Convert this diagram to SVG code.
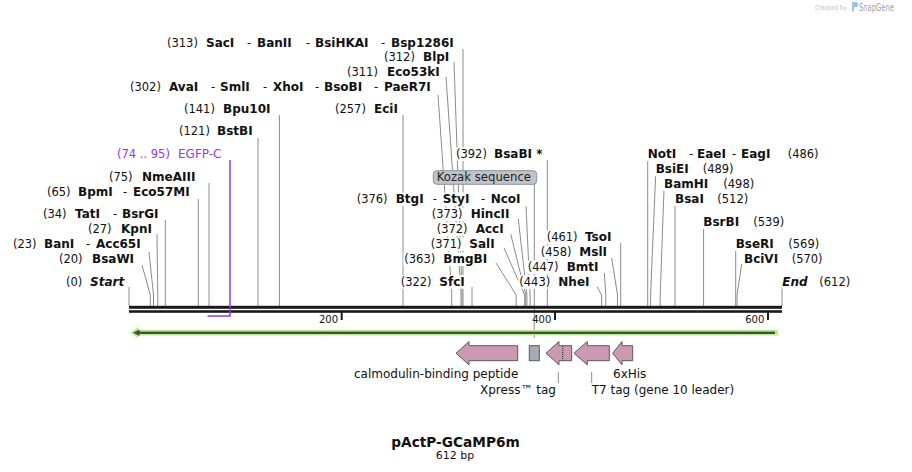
<svg xmlns="http://www.w3.org/2000/svg" width="912" height="472" viewBox="0 0 912 472">
<style>
text{font-family:"DejaVu Sans",Verdana,sans-serif;fill:#111}
.n{font-size:11.5px}
.b{font-size:12px;font-weight:bold}
.bi{font-size:12px;font-weight:bold;font-style:italic}
.bg{fill:#fff}
.cut{stroke:#8c8c8c;stroke-width:1;fill:none}
.feat{fill:#cc99b2;stroke:#5a5a5a;stroke-width:1}
.fl{font-size:12px}
.tick{font-size:10px}
.pur{fill:#9933ff}
</style>
<rect width="912" height="472" fill="#fff"/>

<!-- watermark -->
<g id="watermark">
<text x="815" y="10" style="font-size:7px;fill:#c4c4c4" textLength="32" lengthAdjust="spacingAndGlyphs">Created by</text>
<path d="M852 2 h3.5 a2.6 2.6 0 0 1 0 5.2 h-1.5 v4.3 h-2 z" fill="#9fc0dc"/>
<text x="859" y="11" style="font-size:10px;fill:#9aa3ad" textLength="35" lengthAdjust="spacingAndGlyphs">SnapGene</text>
</g>

<!-- connectors -->
<g id="connectors">
<path class="cut" d="M463 49V306"/>
<path class="cut" d="M454 62L462 292V306"/>
<path class="cut" d="M446 77L461 292V306"/>
<path class="cut" d="M438 95L451.7 292V306"/>
<path class="cut" d="M279.4 115V306"/>
<path class="cut" d="M403 115V306"/>
<path class="cut" d="M258 138V306"/>
<path class="cut" d="M209 183V306"/>
<path class="cut" d="M198.3 199V306"/>
<path class="cut" d="M165.3 220V306"/>
<path class="cut" d="M157 234L157.8 295V306"/>
<path class="cut" d="M149 252L153.5 295V306"/>
<path class="cut" d="M142 265L150.3 295V306"/>
<path class="cut" d="M129 287V306"/>
<path class="cut" d="M547.3 160V306"/>
<path class="cut" d="M534.3 184V338"/>
<path class="cut" d="M526 206L530.1 295V306"/>
<path class="cut" d="M518.3 219L526.9 295V306"/>
<path class="cut" d="M510.7 234L525.8 295V306"/>
<path class="cut" d="M504 248L524.7 295V306"/>
<path class="cut" d="M496 263L516.2 295V306"/>
<path class="cut" d="M472 287V306"/>
<path class="cut" d="M597 286.5L601.6 295V306"/>
<path class="cut" d="M604.3 273L605.8 295V306"/>
<path class="cut" d="M611.7 258L617.5 295V306"/>
<path class="cut" d="M620.7 243V306"/>
<path class="cut" d="M647.7 160V306"/>
<path class="cut" d="M655.7 174L650.6 295V306"/>
<path class="cut" d="M664 190L660.2 295V306"/>
<path class="cut" d="M675 205V306"/>
<path class="cut" d="M703.6 228V306"/>
<path class="cut" d="M735.7 250V306"/>
<path class="cut" d="M741.7 264L737 295V306"/>
<path class="cut" d="M782 287V306"/>
<path class="cut" d="M558.3 372V383"/>
<path class="cut" d="M591.7 372V383"/>
</g>

<!-- sequence bar -->
<g id="bar">
<rect x="129" y="305.8" width="653" height="3" fill="#1a1a1a"/>
<rect x="129" y="310.2" width="653" height="2.6" fill="#1a1a1a"/>
<rect x="340.7" y="312" width="2" height="8" fill="#1a1a1a"/>
<rect x="554" y="312" width="2" height="8" fill="#1a1a1a"/>
<rect x="767" y="312" width="2" height="8" fill="#1a1a1a"/>
<text class="tick" x="338" y="322.7" text-anchor="end">200</text>
<text class="tick" x="551.3" y="322.7" text-anchor="end">400</text>
<text class="tick" x="764.3" y="322.7" text-anchor="end">600</text>
</g>

<!-- EGFP-C feature -->
<g id="egfp">
<path d="M230 160V316H207.5" fill="none" stroke="#9933ff" stroke-width="1.5"/>
<rect class="bg" x="116" y="147.5" width="107" height="13.5"/>
<text y="158" class="pur"><tspan class="n" x="117" style="fill:#9933ff">(74 .. 95)</tspan><tspan x="178" style="font-size:12px;fill:#9933ff">EGFP-C</tspan></text>
</g>

<!-- ORF arrow -->
<g id="orf">
<polygon points="130,332.7 138.5,326.8 138.5,329.8 778,329.8 778,335.6 138.5,335.6 138.5,338.6" fill="#b8f090"/>
<rect x="137" y="331.6" width="638" height="2.4" fill="#4a4a4a"/>
<polygon points="133,332.8 139.5,329.6 139.5,336" fill="#4a4a4a"/>
</g>

<!-- features -->
<g id="calmodulin">
<polygon class="feat" points="456,353.2 469,341.5 469,345.7 517.7,345.7 517.7,360.7 469,360.7 469,364.9"/>
<text class="fl" x="354" y="378">calmodulin-binding peptide</text>
</g>
<g id="graybox">
<rect x="529.3" y="345.7" width="10" height="15" fill="#a6acb3" stroke="#5a5a5a" stroke-width="1"/>
</g>
<g id="xpress">
<polygon class="feat" points="546,353.2 559,341.5 559,345.7 571.7,345.7 571.7,360.7 559,360.7 559,364.9"/>
<line x1="562.7" y1="346" x2="562.7" y2="360.5" stroke="#222" stroke-width="1" stroke-dasharray="1,1"/>
<text class="fl" x="480" y="394">Xpress™ tag</text>
</g>
<g id="t7">
<polygon class="feat" points="574,353.2 587.3,341.5 587.3,345.7 609.3,345.7 609.3,360.7 587.3,360.7 587.3,364.9"/>
<text class="fl" x="591.7" y="394">T7 tag (gene 10 leader)</text>
</g>
<g id="his">
<polygon class="feat" points="612.7,353.2 622,341.5 622,345.7 632.7,345.7 632.7,360.7 622,360.7 622,364.9"/>
<text class="fl" x="613" y="378">6xHis</text>
</g>

<!-- Kozak -->
<g id="kozak">
<rect x="433.3" y="170.7" width="103.4" height="13.6" rx="3.5" fill="#c0c4ca" stroke="#8e939a" stroke-width="1"/>
<text x="436.7" y="181.2" style="font-size:11.7px;fill:#222">Kozak sequence</text>
</g>

<!-- left / top labels -->
<g id="l313"><rect class="bg" x="166" y="36" width="291" height="13.5"/><text y="46.5"><tspan class="n" x="167">(313)</tspan><tspan class="b" x="206">SacI</tspan><tspan class="n" x="247">-</tspan><tspan class="b" x="257">BanII</tspan><tspan class="n" x="306">-</tspan><tspan class="b" x="315">BsiHKAI</tspan><tspan class="n" x="381">-</tspan><tspan class="b" x="391">Bsp1286I</tspan></text></g>
<g id="l312"><rect class="bg" x="383" y="50.5" width="70" height="13.5"/><text y="61"><tspan class="n" x="384">(312)</tspan><tspan class="b" x="423">BlpI</tspan></text></g>
<g id="l311"><rect class="bg" x="346" y="65.5" width="97" height="13.5"/><text y="76"><tspan class="n" x="347">(311)</tspan><tspan class="b" x="387">Eco53kI</tspan></text></g>
<g id="l302"><rect class="bg" x="129" y="80.5" width="304" height="13.5"/><text y="91"><tspan class="n" x="130">(302)</tspan><tspan class="b" x="169">AvaI</tspan><tspan class="n" x="211">-</tspan><tspan class="b" x="220">SmlI</tspan><tspan class="n" x="263">-</tspan><tspan class="b" x="273">XhoI</tspan><tspan class="n" x="315">-</tspan><tspan class="b" x="324">BsoBI</tspan><tspan class="n" x="374">-</tspan><tspan class="b" x="384">PaeR7I</tspan></text></g>
<g id="l141"><rect class="bg" x="183" y="102.5" width="91" height="13.5"/><text y="113"><tspan class="n" x="184">(141)</tspan><tspan class="b" x="223">Bpu10I</tspan></text></g>
<g id="l257"><rect class="bg" x="334" y="102.5" width="67" height="13.5"/><text y="113"><tspan class="n" x="335">(257)</tspan><tspan class="b" x="374">EciI</tspan></text></g>
<g id="l121"><rect class="bg" x="178" y="124.5" width="78" height="13.5"/><text y="135"><tspan class="n" x="179">(121)</tspan><tspan class="b" x="217">BstBI</tspan></text></g>
<g id="l75"><rect class="bg" x="108" y="170.5" width="94" height="13.5"/><text y="181"><tspan class="n" x="109">(75)</tspan><tspan class="b" x="142">NmeAIII</tspan></text></g>
<g id="l65"><rect class="bg" x="46" y="185.5" width="147" height="13.5"/><text y="196"><tspan class="n" x="47">(65)</tspan><tspan class="b" x="78">BpmI</tspan><tspan class="n" x="123">-</tspan><tspan class="b" x="133">Eco57MI</tspan></text></g>
<g id="l34"><rect class="bg" x="42" y="207.5" width="120" height="13.5"/><text y="218"><tspan class="n" x="43">(34)</tspan><tspan class="b" x="75">TatI</tspan><tspan class="n" x="113">-</tspan><tspan class="b" x="122">BsrGI</tspan></text></g>
<g id="l27"><rect class="bg" x="87" y="222.5" width="67" height="13.5"/><text y="233"><tspan class="n" x="88">(27)</tspan><tspan class="b" x="121">KpnI</tspan></text></g>
<g id="l23"><rect class="bg" x="12" y="237.5" width="131" height="13.5"/><text y="248"><tspan class="n" x="13">(23)</tspan><tspan class="b" x="44">BanI</tspan><tspan class="n" x="86">-</tspan><tspan class="b" x="96">Acc65I</tspan></text></g>
<g id="l20"><rect class="bg" x="58" y="252.5" width="79" height="13.5"/><text y="263"><tspan class="n" x="59">(20)</tspan><tspan class="b" x="92">BsaWI</tspan></text></g>
<g id="l0"><rect class="bg" x="65" y="275.2" width="59" height="13.5"/><text y="285.7"><tspan class="n" x="66">(0)</tspan><tspan class="bi" x="90">Start</tspan></text></g>

<!-- middle labels -->
<g id="m392"><rect class="bg" x="455" y="147.5" width="90" height="13.5"/><text y="158"><tspan class="n" x="456">(392)</tspan><tspan class="b" x="494">BsaBI *</tspan></text></g>
<g id="m376"><rect class="bg" x="355.7" y="192.5" width="167" height="13.5"/><text y="203"><tspan class="n" x="356.7">(376)</tspan><tspan class="b" x="395.7">BtgI</tspan><tspan class="n" x="432.7">-</tspan><tspan class="b" x="442.7">StyI</tspan><tspan class="n" x="481">-</tspan><tspan class="b" x="490.7">NcoI</tspan></text></g>
<g id="m373"><rect class="bg" x="430.7" y="207.5" width="83" height="13.5"/><text y="218"><tspan class="n" x="431.7">(373)</tspan><tspan class="b" x="470.7">HincII</tspan></text></g>
<g id="m372"><rect class="bg" x="435.7" y="222.5" width="70" height="13.5"/><text y="233"><tspan class="n" x="436.7">(372)</tspan><tspan class="b" x="475.7">AccI</tspan></text></g>
<g id="m371"><rect class="bg" x="429.7" y="237.5" width="68" height="13.5"/><text y="248"><tspan class="n" x="430.7">(371)</tspan><tspan class="b" x="469.3">SalI</tspan></text></g>
<g id="m363"><rect class="bg" x="403.3" y="252.5" width="86" height="13.5"/><text y="263"><tspan class="n" x="404.3">(363)</tspan><tspan class="b" x="443.3">BmgBI</tspan></text></g>
<g id="m322"><rect class="bg" x="399.7" y="275.2" width="67" height="13.5"/><text y="285.7"><tspan class="n" x="400.7">(322)</tspan><tspan class="b" x="439.3">SfcI</tspan></text></g>
<g id="m461"><rect class="bg" x="546" y="230.5" width="70" height="13.5"/><text y="241"><tspan class="n" x="546.7">(461)</tspan><tspan class="b" x="585">TsoI</tspan></text></g>
<g id="m458"><rect class="bg" x="539.7" y="245.5" width="70" height="13.5"/><text y="256"><tspan class="n" x="540.7">(458)</tspan><tspan class="b" x="579.3">MslI</tspan></text></g>
<g id="m447"><rect class="bg" x="526.7" y="260.5" width="74" height="13.5"/><text y="271"><tspan class="n" x="527.7">(447)</tspan><tspan class="b" x="566.7">BmtI</tspan></text></g>
<g id="m443"><rect class="bg" x="518.3" y="275.2" width="74" height="13.5"/><text y="285.7"><tspan class="n" x="519.3">(443)</tspan><tspan class="b" x="558.3">NheI</tspan></text></g>

<!-- right labels -->
<g id="r486"><rect class="bg" x="647" y="147.8" width="172" height="13.5"/><text y="158.3"><tspan class="b" x="647.7">NotI</tspan><tspan class="n" x="689">-</tspan><tspan class="b" x="697">EaeI</tspan><tspan class="n" x="732">-</tspan><tspan class="b" x="741">EagI</tspan><tspan class="n" x="787.7">(486)</tspan></text></g>
<g id="r489"><rect class="bg" x="655" y="162.8" width="82" height="13.5"/><text y="173.3"><tspan class="b" x="655.7">BsiEI</tspan><tspan class="n" x="702.7">(489)</tspan></text></g>
<g id="r498"><rect class="bg" x="663.3" y="177.5" width="94" height="13.5"/><text y="188"><tspan class="b" x="664">BamHI</tspan><tspan class="n" x="723.3">(498)</tspan></text></g>
<g id="r512"><rect class="bg" x="674.3" y="192.5" width="75" height="13.5"/><text y="203"><tspan class="b" x="675">BsaI</tspan><tspan class="n" x="717.3">(512)</tspan></text></g>
<g id="r539"><rect class="bg" x="702.6" y="215.5" width="84" height="13.5"/><text y="226"><tspan class="b" x="703.3">BsrBI</tspan><tspan class="n" x="753.3">(539)</tspan></text></g>
<g id="r569"><rect class="bg" x="735" y="237.5" width="85" height="13.5"/><text y="248"><tspan class="b" x="735.7">BseRI</tspan><tspan class="n" x="788.3">(569)</tspan></text></g>
<g id="r570"><rect class="bg" x="743.3" y="252.5" width="81" height="13.5"/><text y="263"><tspan class="b" x="744">BciVI</tspan><tspan class="n" x="791.7">(570)</tspan></text></g>
<g id="r612"><rect class="bg" x="781.6" y="275.2" width="70" height="13.5"/><text y="285.7"><tspan class="bi" x="782.3">End</tspan><tspan class="n" x="819.3">(612)</tspan></text></g>

<!-- title -->
<g id="title">
<text x="455.5" y="446.5" text-anchor="middle" style="font-size:13.7px;font-weight:bold">pActP-GCaMP6m</text>
<text x="455" y="458.5" text-anchor="middle" style="font-size:11px">612 bp</text>
</g>
</svg>
